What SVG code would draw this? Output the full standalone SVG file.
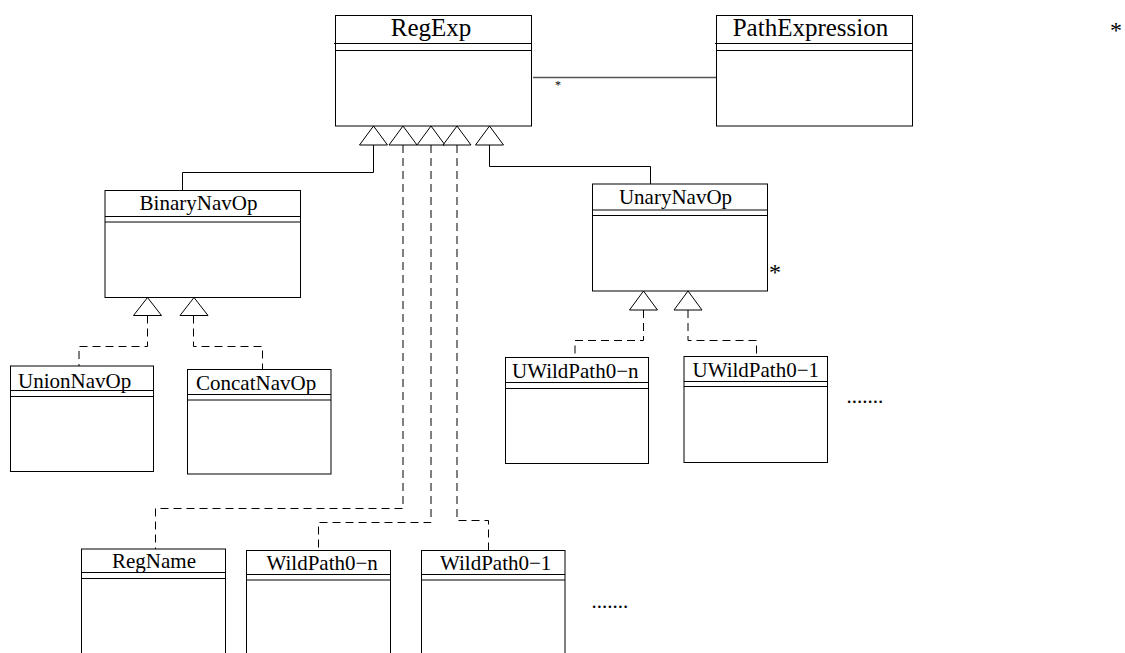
<svg xmlns="http://www.w3.org/2000/svg" width="1125" height="653" viewBox="0 0 1125 653">
<style>
.box{fill:#fff;stroke:#000;stroke-width:1}
.sep{stroke:#000;stroke-width:1}
.t{font-family:"Liberation Serif","Times New Roman",serif;fill:#000}
.big{font-size:25px}
.mid{font-size:21px}
.solid{fill:none;stroke:#000;stroke-width:1}
.dash{fill:none;stroke:#000;stroke-width:1;stroke-dasharray:8,5}
.tri{fill:#fff;stroke:#000;stroke-width:1}
.assoc{fill:none;stroke:#555;stroke-width:1.3}
</style>
<rect width="1125" height="653" fill="#fff"/>
<g id="connectors">
<line class="assoc" x1="533" y1="77.5" x2="716.5" y2="77.5"/>
<path class="solid" d="M373.5 145 V172.5 H182.5 V190.5"/>
<path class="solid" d="M489.5 145 V166.5 H650.5 V184"/>
<path class="dash" d="M403 145 V508.5 H155.5 V549"/>
<path class="dash" d="M431 145 V522.5 H318.5 V550.5"/>
<path class="dash" d="M457 145 V520.5 H488.5 V550.5"/>
<path class="dash" d="M147.5 315.5 V346.5 H79 V366"/>
<path class="dash" d="M193.5 315.5 V346.5 H262.5 V369.5"/>
<path class="dash" d="M643.5 310 V340.5 H575 V357.5"/>
<path class="dash" d="M688 310 V340.5 H756.5 V356.5"/>
<polygon class="tri" points="373.5,126 359.5,145 387.5,145"/>
<polygon class="tri" points="403,126 389,145 417,145"/>
<polygon class="tri" points="431,126 417,145 445,145"/>
<polygon class="tri" points="457,126 443,145 471,145"/>
<polygon class="tri" points="489.5,126 475.5,145 503.5,145"/>
<polygon class="tri" points="147.5,297.5 133.5,315.5 161.5,315.5"/>
<polygon class="tri" points="194,297.5 180,315.5 208,315.5"/>
<polygon class="tri" points="643.5,291 629.5,310 657.5,310"/>
<polygon class="tri" points="688,291 674,310 702,310"/>
<text class="t" x="555" y="89" font-size="12" fill="#555">*</text>
</g>
<g id="RegExp">
<rect class="box" x="335.5" y="15.5" width="196" height="110.5"/>
<line class="sep" x1="334" y1="43.5" x2="531.5" y2="43.5"/>
<line class="sep" x1="335.5" y1="50.5" x2="531.5" y2="50.5"/>
<text class="t big" x="431" y="36" text-anchor="middle">RegExp</text>
</g>
<g id="PathExpression">
<rect class="box" x="716.5" y="15.5" width="196" height="110.5"/>
<line class="sep" x1="715" y1="43.5" x2="912.5" y2="43.5"/>
<line class="sep" x1="716.5" y1="50.5" x2="912.5" y2="50.5"/>
<text class="t big" x="810.5" y="36" text-anchor="middle">PathExpression</text>
</g>
<g id="BinaryNavOp">
<rect class="box" x="105" y="190.5" width="195.5" height="107"/>
<line class="sep" x1="105" y1="216.5" x2="300.5" y2="216.5"/>
<line class="sep" x1="105" y1="222" x2="300.5" y2="222"/>
<text class="t mid" x="198.5" y="210" text-anchor="middle">BinaryNavOp</text>
</g>
<g id="UnionNavOp">
<rect class="box" x="10.5" y="366" width="143" height="105.5"/>
<line class="sep" x1="10.5" y1="390.5" x2="153.5" y2="390.5"/>
<line class="sep" x1="10.5" y1="396.5" x2="153.5" y2="396.5"/>
<text class="t mid" x="18" y="388">UnionNavOp</text>
</g>
<g id="ConcatNavOp">
<rect class="box" x="187.5" y="369.5" width="143.5" height="104.5"/>
<line class="sep" x1="187.5" y1="394.5" x2="331" y2="394.5"/>
<line class="sep" x1="187.5" y1="400" x2="331" y2="400"/>
<text class="t mid" x="196" y="390">ConcatNavOp</text>
</g>
<g id="UnaryNavOp">
<rect class="box" x="592.5" y="184" width="175" height="107"/>
<line class="sep" x1="592.5" y1="210" x2="767.5" y2="210"/>
<line class="sep" x1="592.5" y1="215.5" x2="767.5" y2="215.5"/>
<text class="t mid" x="675.5" y="203.5" text-anchor="middle">UnaryNavOp</text>
<text class="t" x="769" y="280" font-size="24">*</text>
</g>
<g id="UWildPath0-n">
<rect class="box" x="505.5" y="357.5" width="143" height="106"/>
<line class="sep" x1="505.5" y1="382.5" x2="648.5" y2="382.5"/>
<line class="sep" x1="505.5" y1="388.5" x2="648.5" y2="388.5"/>
<text class="t mid" x="512" y="377.5">UWildPath0−n</text>
</g>
<g id="UWildPath0-1">
<rect class="box" x="684" y="356.5" width="143.5" height="106"/>
<line class="sep" x1="684" y1="381.5" x2="827.5" y2="381.5"/>
<line class="sep" x1="684" y1="386.5" x2="827.5" y2="386.5"/>
<text class="t mid" x="692.5" y="377">UWildPath0−1</text>
</g>
<text class="t mid" x="846.5" y="403">.......</text>
<g id="RegName">
<rect class="box" x="81.5" y="549" width="144" height="112"/>
<line class="sep" x1="81.5" y1="572.5" x2="225.5" y2="572.5"/>
<line class="sep" x1="81.5" y1="578.5" x2="225.5" y2="578.5"/>
<text class="t mid" x="112" y="568">RegName</text>
</g>
<g id="WildPath0-n">
<rect class="box" x="246.5" y="550.5" width="144" height="112"/>
<line class="sep" x1="246.5" y1="574.5" x2="390.5" y2="574.5"/>
<line class="sep" x1="246.5" y1="580" x2="390.5" y2="580"/>
<text class="t mid" x="266.5" y="570">WildPath0−n</text>
</g>
<g id="WildPath0-1">
<rect class="box" x="421.5" y="550.5" width="143.5" height="112"/>
<line class="sep" x1="421.5" y1="574.5" x2="565" y2="574.5"/>
<line class="sep" x1="421.5" y1="580" x2="565" y2="580"/>
<text class="t mid" x="440" y="570">WildPath0−1</text>
</g>
<text class="t mid" x="591.5" y="608">.......</text>
<text class="t" x="1110" y="38" font-size="24">*</text>
</svg>
